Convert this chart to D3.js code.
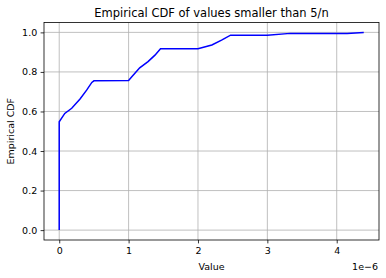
<!DOCTYPE html>
<html><head><meta charset="utf-8">
<script src="https://cdn.jsdelivr.net/npm/d3@7"></script>
<style>body{margin:0;background:#fff}svg{display:block}text{font-family:"DejaVu Sans",sans-serif;fill:#000}</style>
</head><body>
<script>
// data (x in units of 1e-6)
const xValues = [0, 0, 0.08, 0.18, 0.30, 0.395, 0.47, 0.50, 1.00, 1.04, 1.16, 1.28, 1.38, 1.46, 2.00, 2.20, 2.34, 2.47, 3.00, 3.33, 4.15, 4.39];
const cdfValues = [0, 0.548, 0.59, 0.616, 0.663, 0.708, 0.747, 0.755, 0.757, 0.773, 0.821, 0.852, 0.885, 0.917, 0.917, 0.936, 0.961, 0.986, 0.986, 0.995, 0.995, 1.0];
const xTicks = [0, 1, 2, 3, 4];
const yTicks = [0, 0.2, 0.4, 0.6, 0.8, 1.0];

const W = 386, H = 278;
const m = {l: 44, r: 7, t: 22.5, b: 38};
const svg = d3.select("body").append("svg").attr("width", W).attr("height", H);
const x = d3.scaleLinear().domain([-0.2195, 4.6095]).range([m.l, W - m.r]);
const y = d3.scaleLinear().domain([-0.05, 1.05]).range([H - m.b, m.t]);

const g = svg.append("g");
// grid
g.selectAll(".gx").data(xTicks).enter().append("line")
  .attr("x1", d => x(d)).attr("x2", d => x(d)).attr("y1", y.range()[0]).attr("y2", y.range()[1])
  .attr("stroke", "#b0b0b0").attr("stroke-width", 0.8);
g.selectAll(".gy").data(yTicks).enter().append("line")
  .attr("y1", d => y(d)).attr("y2", d => y(d)).attr("x1", x.range()[0]).attr("x2", x.range()[1])
  .attr("stroke", "#b0b0b0").attr("stroke-width", 0.8);

// line
const pts = xValues.map((v, i) => [v, cdfValues[i]]);
g.append("path").datum(pts)
  .attr("d", d3.line().x(d => x(d[0])).y(d => y(d[1])))
  .attr("fill", "none").attr("stroke", "#0000ff").attr("stroke-width", 1.5);

// axes
const xa = svg.append("g").attr("transform", `translate(0,${H - m.b})`)
  .call(d3.axisBottom(x).tickValues(xTicks).tickSize(3.4).tickPadding(3.4).tickFormat(d3.format("d")));
const ya = svg.append("g").attr("transform", `translate(${m.l},0)`)
  .call(d3.axisLeft(y).tickValues(yTicks).tickSize(3.4).tickPadding(3.4).tickFormat(d3.format(".1f")));
[xa, ya].forEach(a => {
  a.select(".domain").remove();
  a.selectAll("text").style("font-family", "DejaVu Sans").style("font-size", "9.5px").attr("fill", "#000");
  a.selectAll("line").attr("stroke", "#000").attr("stroke-width", 0.8);
});

// frame
svg.append("rect").attr("x", m.l).attr("y", m.t).attr("width", W - m.r - m.l).attr("height", H - m.b - m.t)
  .attr("fill", "none").attr("stroke", "#000").attr("stroke-width", 0.8);

// labels
svg.append("text").attr("x", (m.l + W - m.r) / 2).attr("y", 17.3).attr("text-anchor", "middle")
  .style("font-size", "11.5px").text("Empirical CDF of values smaller than 5/n");
svg.append("text").attr("x", (m.l + W - m.r) / 2).attr("y", 270).attr("text-anchor", "middle")
  .style("font-size", "9.5px").text("Value");
svg.append("text").attr("x", W - m.r - 1).attr("y", 270).attr("text-anchor", "end")
  .style("font-size", "9.5px").text("1e\u22126");
svg.append("text").attr("transform", `translate(13.5,${(m.t + H - m.b) / 2}) rotate(-90)`).attr("text-anchor", "middle")
  .style("font-size", "9.5px").text("Empirical CDF");
</script>
</body></html>
